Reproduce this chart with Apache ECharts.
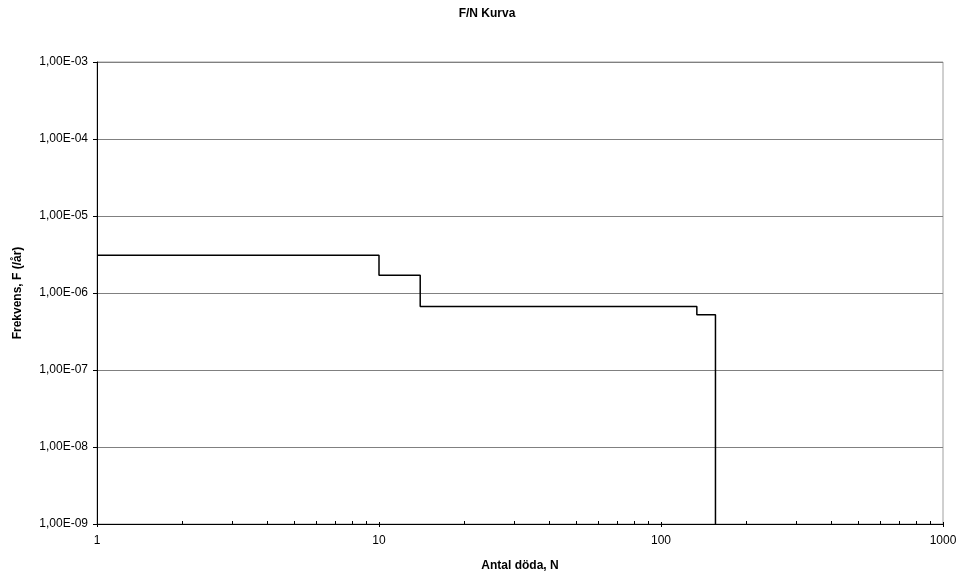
<!DOCTYPE html>
<html><head><meta charset="utf-8">
<script src="https://cdn.jsdelivr.net/npm/echarts@6/dist/echarts.min.js"></script>
<style>html,body{margin:0;padding:0;background:#fff}#c{width:961px;height:581px}</style>
</head><body><div id="c"></div>
<script>
var titleText = 'F/N Kurva';
var xName = 'Antal döda, N';
var yName = 'Frekvens, F (/år)';
var deaths = [1, 10, 14, 134, 156];
var frequency = [3.1e-6, 1.7e-6, 6.7e-7, 5.2e-7, 1e-9];
var minorTicks = [2,3,4,5,6,7,8,9,20,30,40,50,60,70,80,90,200,300,400,500,600,700,800,900];

var font = 'Liberation Sans, Arial, sans-serif';
var chart = echarts.init(document.getElementById('c'), null, {renderer: 'canvas'});
function fmtY(v) {
  var e = Math.round(Math.log10(v));
  var m = v / Math.pow(10, e);
  var s = m.toFixed(2).replace('.', ',');
  var sign = e < 0 ? '-' : '+';
  var a = Math.abs(e);
  return s + 'E' + sign + (a < 10 ? '0' + a : a);
}
function fmtX(v) { return String(Math.round(v)); }
chart.setOption({
  animation: false,
  backgroundColor: '#fff',
  title: {text: titleText, left: 482, top: 3, textAlign: 'center',
    textStyle: {fontFamily: font, fontSize: 12, fontWeight: 'bold', color: '#000'}},
  grid: {left: 97, right: 18, top: 62, bottom: 57, show: true, borderColor: '#a0a0a0', borderWidth: 1},
  xAxis: {type: 'log', logBase: 10, min: 1, max: 1000,
    name: xName, nameLocation: 'middle', nameGap: 36,
    nameTextStyle: {fontFamily: font, fontSize: 12, fontWeight: 'bold', color: '#000'},
    axisLine: {lineStyle: {color: '#000', width: 1}},
    axisTick: {show: true, length: 3, inside: false, lineStyle: {color: '#000'}},
    axisLabel: {fontFamily: font, fontSize: 12, color: '#000', margin: 11, formatter: fmtX},
    splitLine: {show: false}},
  yAxis: {type: 'log', logBase: 10, min: 1e-9, max: 1e-3,
    name: yName, nameLocation: 'middle', nameGap: 73, nameRotate: 90,
    nameTextStyle: {fontFamily: font, fontSize: 12, fontWeight: 'bold', color: '#000'},
    axisLine: {show: true, lineStyle: {color: '#000', width: 1}},
    axisTick: {show: true, length: 4, lineStyle: {color: '#000'}},
    axisLabel: {fontFamily: font, fontSize: 12, color: '#000', margin: 9, formatter: fmtY},
    splitLine: {show: true, lineStyle: {color: '#808080', width: 1}}},
  series: [
    {type: 'line', step: 'end', data: deaths.map(function(d, i){ return [d, frequency[i]]; }),
      symbol: 'none', lineStyle: {color: '#000', width: 1.5}, z: 5},
    {type: 'custom', data: minorTicks.map(function(v){ return [v, 1e-9]; }), z: 6,
      renderItem: function(params, api) {
        var p = api.coord([api.value(0), api.value(1)]);
        var x = Math.round(p[0]) + 0.5;
        return {type: 'line', shape: {x1: x, y1: p[1], x2: x, y2: p[1] - 3},
          style: {stroke: '#000', lineWidth: 1}};
      }},
    {type: 'custom', data: [1, 10, 100, 1000].map(function(v){ return [v, 1e-9]; }), z: 6,
      renderItem: function(params, api) {
        var p = api.coord([api.value(0), api.value(1)]);
        var x = Math.round(p[0]) + 0.5;
        return {type: 'line', shape: {x1: x, y1: p[1], x2: x, y2: p[1] - 2},
          style: {stroke: '#000', lineWidth: 1}};
      }}
  ]
});
</script></body></html>
